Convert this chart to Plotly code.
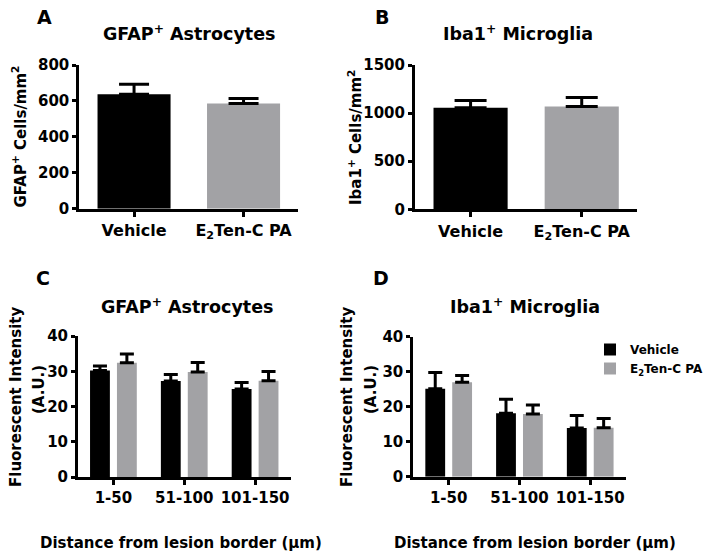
import plotly.graph_objects as go

W, H = 708, 557

# ---- data ----
groups_ab = ["Vehicle", "E<sub>2</sub>Ten-C PA"]
gfap_counts = [637, 585]
gfap_counts_err = [56, 28]
iba1_counts = [1056, 1069]
iba1_counts_err = [75, 93]

distances = ["1-50", "51-100", "101-150"]
gfap_int_vehicle = [30.2, 27.2, 25.0]
gfap_int_vehicle_err = [1.3, 1.9, 1.8]
gfap_int_pa = [32.4, 29.8, 27.3]
gfap_int_pa_err = [2.5, 2.7, 2.6]
iba1_int_vehicle = [25.1, 18.1, 13.9]
iba1_int_vehicle_err = [4.7, 4.0, 3.6]
iba1_int_pa = [27.0, 17.9, 14.0]
iba1_int_pa_err = [1.9, 2.6, 2.6]

BLACK = "#000000"
GRAY = "#a2a2a5"
FONT = "DejaVu Sans"


def px(x):
    return x / W


def py(y):
    return (H - y) / H


fig = go.Figure()


def err(vals, w, th=3):
    return dict(type="data", array=vals, arrayminus=[0] * len(vals), symmetric=False,
                color="black", thickness=th, width=w)


# Panel A
fig.add_trace(go.Bar(x=groups_ab, y=gfap_counts, marker=dict(color=[BLACK, GRAY], line=dict(width=0)),
                     width=0.667, error_y=err(gfap_counts_err, 15), showlegend=False,
                     xaxis="x", yaxis="y"))
# Panel B
fig.add_trace(go.Bar(x=groups_ab, y=iba1_counts, marker=dict(color=[BLACK, GRAY], line=dict(width=0)),
                     width=0.667, error_y=err(iba1_counts_err, 16), showlegend=False,
                     xaxis="x2", yaxis="y2"))
# Panel C
fig.add_trace(go.Bar(x=distances, y=gfap_int_vehicle, marker=dict(color=BLACK, line=dict(width=0)),
                     width=0.28, offset=-0.33, error_y=err(gfap_int_vehicle_err, 7),
                     showlegend=False, xaxis="x3", yaxis="y3"))
fig.add_trace(go.Bar(x=distances, y=gfap_int_pa, marker=dict(color=GRAY, line=dict(width=0)),
                     width=0.28, offset=0.05, error_y=err(gfap_int_pa_err, 7),
                     showlegend=False, xaxis="x3", yaxis="y3"))
# Panel D
fig.add_trace(go.Bar(x=distances, y=iba1_int_vehicle, marker=dict(color=BLACK, line=dict(width=0)),
                     width=0.28, offset=-0.33, error_y=err(iba1_int_vehicle_err, 7),
                     name="Vehicle", showlegend=True, xaxis="x4", yaxis="y4"))
fig.add_trace(go.Bar(x=distances, y=iba1_int_pa, marker=dict(color=GRAY, line=dict(width=0)),
                     width=0.28, offset=0.05, error_y=err(iba1_int_pa_err, 7),
                     name="E<sub>2</sub>Ten-C PA", showlegend=True, xaxis="x4", yaxis="y4"))


def xax(domain, rng, anchor, size):
    return dict(domain=domain, range=rng, anchor=anchor, type="category",
                showline=True, linewidth=3, linecolor="black", showgrid=False, zeroline=False,
                ticks="outside", ticklen=5, tickwidth=2.5, tickcolor="black", automargin=False,
                tickfont=dict(family=FONT, size=size, color="black", weight="bold"))


def yax(domain, rng, dtick, anchor, size):
    return dict(domain=domain, range=rng, dtick=dtick, anchor=anchor,
                showline=True, linewidth=3, linecolor="black", showgrid=False, zeroline=False,
                ticks="outside", ticklen=4, tickwidth=2.5, tickcolor="black", automargin=False,
                tickfont=dict(family=FONT, size=size, color="black", weight="bold"))


fig.update_layout(
    width=W, height=H,
    margin=dict(l=0, r=0, t=0, b=0, autoexpand=False),
    paper_bgcolor="white", plot_bgcolor="white",
    barmode="group",
    xaxis=xax([px(79.3), px(298.3)], [-0.5, 1.5], "y", 16),
    yaxis=yax([py(208.7), py(65)], [0, 800], 200, "x", 15),
    xaxis2=xax([px(415), px(637.3)], [-0.5, 1.5], "y2", 16),
    yaxis2=yax([py(209.3), py(65)], [0, 1500], 500, "x2", 15),
    xaxis3=xax([px(78), px(290.5)], [-0.5, 2.5], "y3", 15),
    yaxis3=yax([py(477), py(336)], [0, 40], 10, "x3", 15),
    xaxis4=xax([px(413.3), px(625.6)], [-0.5, 2.5], "y4", 15),
    yaxis4=yax([py(476.7), py(336.7)], [0, 40], 10, "x4", 15),
    legend=dict(x=px(590), y=py(335), xanchor="left", yanchor="top",
                bgcolor="rgba(0,0,0,0)", borderwidth=0, tracegroupgap=0,
                font=dict(family=FONT, size=12, color="black", weight="bold")),
)


def ann(text, x, y, size, angle=0):
    fig.add_annotation(text=text, x=px(x), y=py(y), xref="paper", yref="paper",
                       xanchor="center", yanchor="middle", showarrow=False, textangle=angle,
                       font=dict(family=FONT, size=size, color="black", weight="bold"))


# panel letters
ann("A", 44, 17, 19)
ann("B", 382, 17, 19)
ann("C", 43, 278, 19)
ann("D", 381, 278, 19)
# titles
ann("GFAP<sup>+</sup> Astrocytes", 189, 33, 17.5)
ann("Iba1<sup>+</sup> Microglia", 518, 33, 17.5)
ann("GFAP<sup>+</sup> Astrocytes", 187, 306, 17.5)
ann("Iba1<sup>+</sup> Microglia", 525, 306, 17.5)
# y titles
ann("GFAP<sup>+</sup> Cells/mm<sup>2</sup>", 19.5, 137, 15, -90)
ann("Iba1<sup>+</sup> Cells/mm<sup>2</sup>", 355, 137, 15, -90)
ann("Fluorescent Intensity", 16, 397, 15, -90)
ann("(A.U.)", 39, 390, 15, -90)
ann("Fluorescent Intensity", 347, 397, 15, -90)
ann("(A.U.)", 371, 390, 15, -90)
# x titles
ann("Distance from lesion border (µm)", 181, 543, 15)
ann("Distance from lesion border (µm)", 535, 543, 15)

fig.write_html("out.html", config={"displayModeBar": False},
               post_script="document.body.style.margin='0px';")
